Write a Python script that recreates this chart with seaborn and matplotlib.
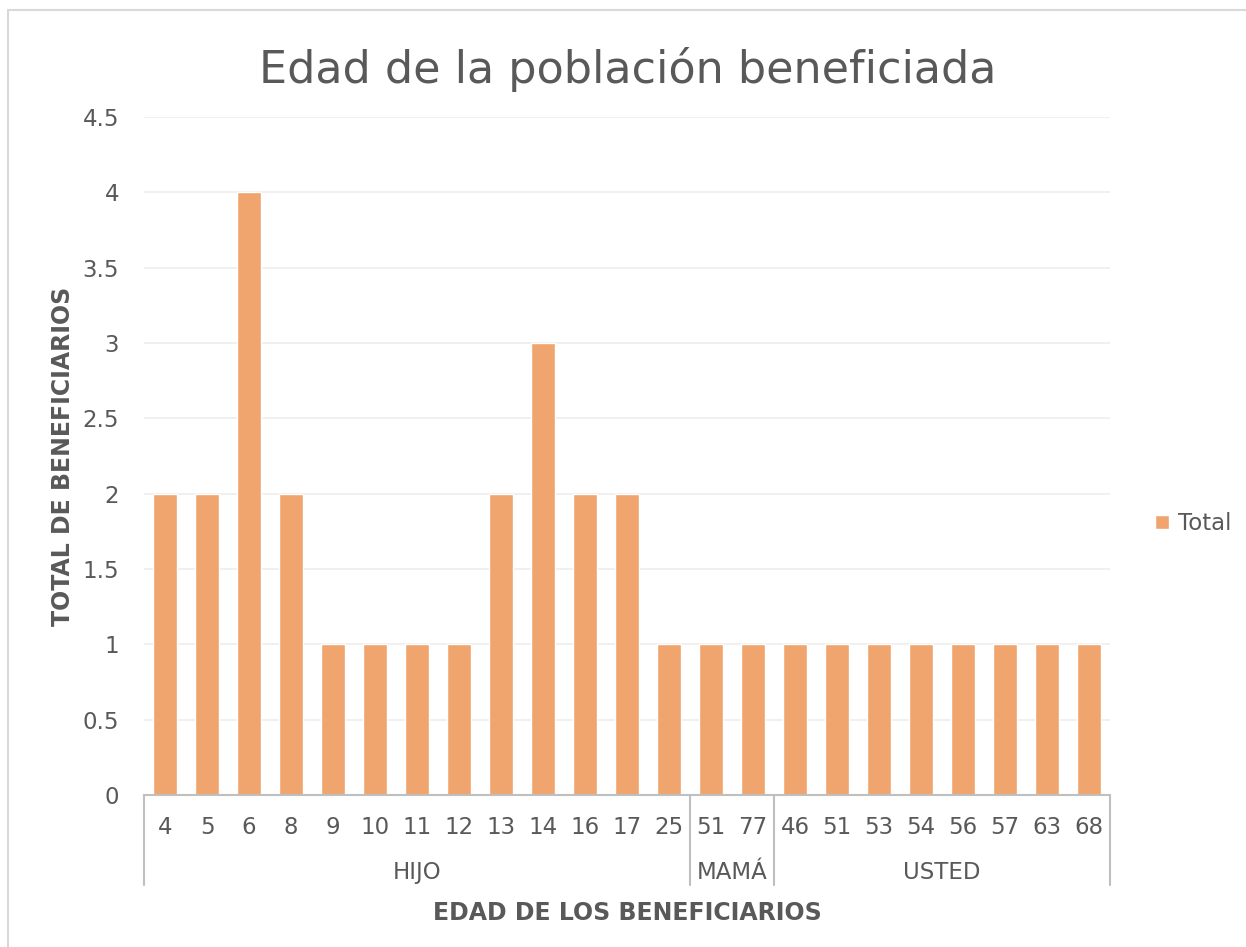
import matplotlib
matplotlib.use("Agg")
import matplotlib.pyplot as plt
import matplotlib.patches as mpatches
import matplotlib.transforms as mtransforms
import seaborn as sns
import pandas as pd

groups = ["HIJO"] * 13 + ["MAMÁ"] * 2 + ["USTED"] * 8
ages = ["4", "5", "6", "8", "9", "10", "11", "12", "13", "14", "16", "17", "25",
        "51", "77",
        "46", "51", "53", "54", "56", "57", "63", "68"]
totals = [2, 2, 4, 2, 1, 1, 1, 1, 2, 3, 2, 2, 1,
          1, 1,
          1, 1, 1, 1, 1, 1, 1, 1]
group_names = ["HIJO", "MAMÁ", "USTED"]
yticks = [0, 0.5, 1, 1.5, 2, 2.5, 3, 3.5, 4, 4.5]

sns.set_theme(style="white")
plt.rcParams["font.family"] = ["DejaVu Sans"]

text_color = "#595959"
bar_color = "#F1A56E"

df = pd.DataFrame({"key": [f"{g}|{a}|{i}" for i, (g, a) in enumerate(zip(groups, ages))],
                   "Total": totals})

fig = plt.figure(figsize=(12.46, 9.47), dpi=100)
ax = fig.add_axes([144 / 1246, 152 / 947, 966 / 1246, 678 / 947])

sns.barplot(data=df, x="key", y="Total", color=bar_color, width=0.57,
            saturation=1, ax=ax, label="Total", zorder=3)

ax.set_ylim(0, 4.5)
ax.set_xlim(-0.5, len(ages) - 0.5)
ax.set_yticks(yticks)
ax.set_yticklabels([("%g" % v) for v in yticks], color=text_color, fontsize=16.5)
ax.set_xticks(range(len(ages)))
ax.set_xticklabels(ages, color=text_color, fontsize=16.5)
ax.tick_params(axis="x", length=0, pad=15)
ax.tick_params(axis="y", length=0, pad=18)
ax.yaxis.grid(True, color="#EDEDED", linewidth=1.2, zorder=0)
ax.xaxis.grid(False)
for s in ["top", "right", "left"]:
    ax.spines[s].set_visible(False)
ax.spines["bottom"].set_color("#BFBFBF")
ax.spines["bottom"].set_linewidth(1.5)
ax.spines["bottom"].set_zorder(4)

# group separators and labels
trans = mtransforms.blended_transform_factory(ax.transData, ax.transAxes)
bounds = [-0.5]
start = 0
centers = []
for g in group_names:
    n = groups.count(g)
    centers.append(start + (n - 1) / 2)
    start += n
    bounds.append(start - 0.5)
for b in bounds:
    ax.plot([b, b], [0, -0.133], transform=trans, color="#BFBFBF",
            linewidth=1.5, clip_on=False)
for c, g in zip(centers, group_names):
    ax.text(c, -0.114, g, transform=trans, ha="center", va="center",
            fontsize=16.5, color=text_color)

ax.set_xlabel("EDAD DE LOS BENEFICIARIOS", fontsize=17, fontweight="bold",
              color=text_color, labelpad=45)
ax.set_ylabel("TOTAL DE BENEFICIARIOS", fontsize=17, fontweight="bold",
              color=text_color, labelpad=5)

fig.text(628 / 1246, 1 - 70 / 947, "Edad de la población beneficiada",
         ha="center", va="center", fontsize=32, color=text_color)

leg = ax.legend(loc="center left", bbox_to_anchor=(1.025, 0.4), frameon=False,
                fontsize=16.5, handlelength=0.6, handleheight=0.6, handletextpad=0.4)
for t in leg.get_texts():
    t.set_color(text_color)

border = mpatches.Rectangle((8 / 1246, -0.01), 1.0, 1 - 10 / 947 + 0.01,
                            transform=fig.transFigure, fill=False,
                            edgecolor="#D9D9D9", linewidth=1.5)
fig.patches.append(border)

fig.savefig("out.png", dpi=100, facecolor="white")
